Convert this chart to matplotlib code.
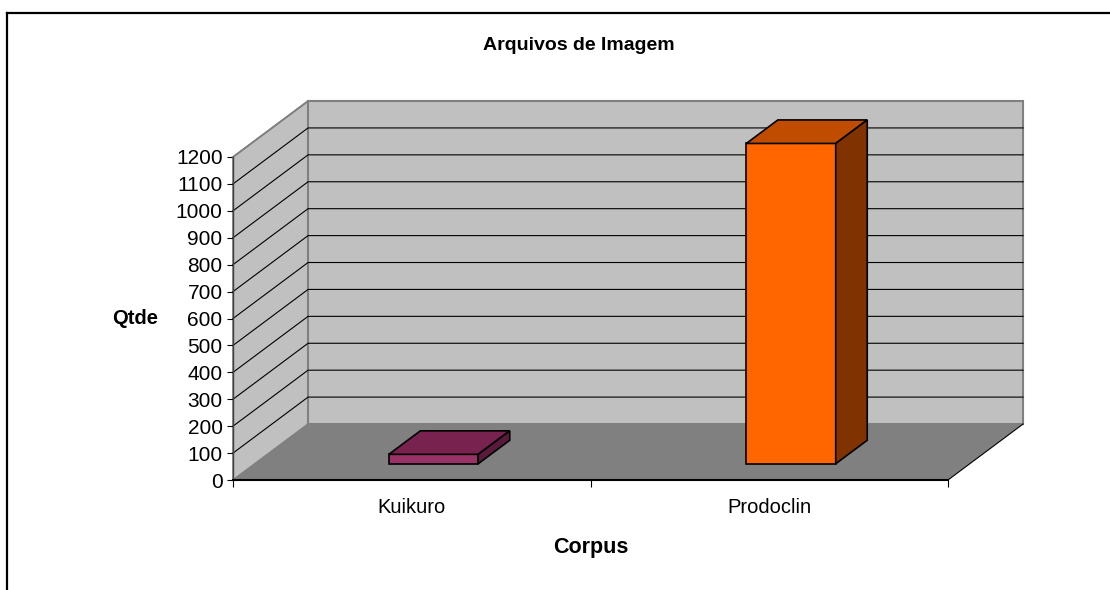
import matplotlib
matplotlib.use("Agg")
from matplotlib import pyplot as plt
from matplotlib.patches import Polygon
from matplotlib.lines import Line2D
import numpy as np

# dados
categorias = ["Kuikuro", "Prodoclin"]
valores = [35, 1190]
yticks = list(range(0, 1300, 100))
titulo = "Arquivos de Imagem"
xlabel = "Corpus"
ylabel = "Qtde"

# cores (frente, topo, lado)
cores = [("#993366", "#78234F", "#5A1A3C"),
         ("#FF6600", "#C04C00", "#803300")]

plt.rcParams['font.family'] = ['Liberation Sans', 'DejaVu Sans']

fig = plt.figure(figsize=(11.1, 5.9), dpi=100)
ax = fig.add_axes([233 / 1110, 110 / 590, 715 / 1110, 323 / 590])
ax.set_xlim(0, len(categorias))
ax.set_ylim(0, 1200)
ax.patch.set_visible(False)

# profundidade 3D em unidades de dados
DX = 0.21
DY = 208
ymax = 1200
n = len(categorias)


def p(x, y, d):
    return (x + DX * d, y + DY * d)


def poly(pts, fc, ec, lw, z):
    ax.add_patch(Polygon(pts, closed=True, facecolor=fc, edgecolor=ec,
                         linewidth=lw, clip_on=False, zorder=z))


# parede lateral, parede do fundo e chao
poly([p(0, 0, 0), p(0, 0, 1), p(0, ymax, 1), p(0, ymax, 0)], "#C0C0C0", "#808080", 1.2, 1)
poly([p(0, 0, 1), p(n, 0, 1), p(n, ymax, 1), p(0, ymax, 1)], "#C0C0C0", "#808080", 1.5, 1)
poly([p(0, 0, 0), p(n, 0, 0), p(n, 0, 1), p(0, 0, 1)], "#808080", "none", 0, 2)
ax.plot(*zip(p(n, 0, 0), p(n, 0, 1)), color="black", lw=0.8, clip_on=False, zorder=3)

# linhas de grade
for v in yticks[1:-1]:
    xs, ys = zip(p(0, v, 0), p(0, v, 1), p(n, v, 1))
    ax.plot(xs, ys, color="black", lw=0.8, clip_on=False, zorder=3)
xs, ys = zip(p(0, ymax, 0), p(0, ymax, 1))
ax.plot(xs, ys, color="#808080", lw=1.2, clip_on=False, zorder=3)

# barras
w = 0.25
d0, d1 = 0.29, 0.71
for i, (v, (cf, ct, cs)) in enumerate(zip(valores, cores)):
    x0 = i + 0.5 - w / 2
    x1 = i + 0.5 + w / 2
    poly([p(x0, 0, d0), p(x1, 0, d0), p(x1, v, d0), p(x0, v, d0)], cf, "black", 1.2, 5)
    poly([p(x0, v, d0), p(x1, v, d0), p(x1, v, d1), p(x0, v, d1)], ct, "black", 1.2, 5)
    poly([p(x1, 0, d0), p(x1, 0, d1), p(x1, v, d1), p(x1, v, d0)], cs, "black", 1.2, 5)

# eixos
for s in ["top", "right"]:
    ax.spines[s].set_visible(False)
ax.spines["left"].set_color("#404040")
ax.spines["left"].set_linewidth(1.0)
ax.spines["bottom"].set_color("black")
ax.spines["bottom"].set_linewidth(1.5)
ax.spines["left"].set_zorder(6)
ax.spines["bottom"].set_zorder(6)

ax.set_yticks(yticks)
ax.tick_params(axis="y", labelsize=15, length=4.5, width=0.8, pad=3, colors="black")
ax.set_xticks(np.arange(n + 1))
ax.set_xticklabels([])
ax.set_xticks(np.arange(n) + 0.5, minor=True)
ax.set_xticklabels(categorias, minor=True)
ax.tick_params(axis="x", which="major", length=5, width=0.8, direction="out")
ax.tick_params(axis="x", which="minor", length=0, labelsize=14.5, pad=13)

# textos
fig.text(579 / 1110, 1 - 45 / 590, titulo, ha="center", va="center",
         fontsize=14, fontweight="bold")
fig.text(135 / 1110, 1 - 318 / 590, ylabel, ha="center", va="center",
         fontsize=14.5, fontweight="bold")
fig.text(591 / 1110, 1 - 548 / 590, xlabel, ha="center", va="center",
         fontsize=15.5, fontweight="bold")

# moldura
fig.add_artist(Line2D([7 / 1110, 1.0], [1 - 13 / 590, 1 - 13 / 590], color="black", lw=1.6))
fig.add_artist(Line2D([7 / 1110, 7 / 1110], [0.0, 1 - 13 / 590], color="black", lw=1.6))

plt.savefig("out.png", dpi=100)
